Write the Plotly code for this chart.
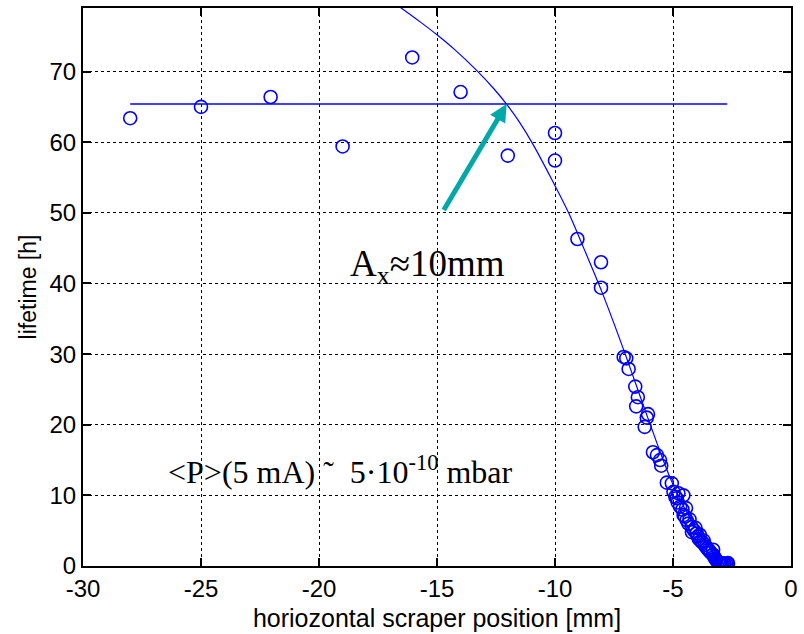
import plotly.graph_objects as go

# measured lifetime data
pos_x = [-28.0, -25.0, -22.05, -19.0, -16.05, -14.0, -12.0, -10.0, -10.0, -9.05, -8.05, -8.05,
         -7.09, -6.98, -6.88, -6.6, -6.49, -6.56, -6.06, -6.11, -6.2, -5.85, -5.68, -5.55, -5.5,
         -5.26, -5.05, -4.98, -4.77, -4.85, -4.9, -4.8, -4.7, -4.6, -4.56, -4.55, -4.5, -4.42,
         -4.45, -4.35, -4.3, -4.21, -4.2, -4.1, -4.0, -4.05, -3.95, -3.9, -3.86, -3.8, -3.75,
         -3.7, -3.65, -3.6, -3.55, -3.5, -3.45, -3.4, -3.3, -3.3, -3.25, -3.2, -3.16, -3.1,
         -3.05, -3.02, -3.0, -2.95, -2.9, -2.85, -2.81, -2.75, -2.7, -2.67]
lifetime = [63.4, 65.0, 66.4, 59.4, 72.0, 67.1, 58.1, 61.3, 57.4, 46.3, 43.0, 39.4,
            29.6, 29.4, 27.9, 25.4, 23.9, 22.6, 21.5, 21.0, 19.7, 16.1, 15.7, 15.0, 14.2,
            11.8, 11.7, 10.5, 10.3, 9.6, 9.8, 9.0, 8.4, 8.0, 10.0, 7.2, 7.0, 6.5,
            8.2, 6.0, 6.6, 5.5, 4.8, 5.0, 4.6, 5.4, 4.2, 3.8, 4.4, 3.5, 3.3,
            3.6, 3.0, 2.7, 2.5, 2.3, 2.1, 1.9, 1.6, 2.3, 1.3, 1.0, 0.8, 0.6,
            0.5, 0.3, 0.4, 0.3, 0.3, 0.35, 0.3, 0.3, 0.35, 0.4]

# fitted curve
fit_x = [-16.6, -15.7, -15.0, -14.25, -13.3, -12.6, -12.08, -11.5, -10.95, -10.18, -9.41,
         -8.77, -8.0, -7.09, -6.39, -5.68, -5.1, -4.5, -4.0, -3.3, -2.85]
fit_y = [79.2, 77.0, 75.2, 73.1, 70.1, 67.6, 65.5, 62.8, 59.8, 55.0, 49.9,
         44.9, 38.7, 30.6, 24.0, 17.4, 12.3, 8.1, 5.3, 1.9, 0.3]

# mean level line
mean_x = [-28.0, -2.7]
mean_y = [65.4, 65.4]

x_ticks = [-30, -25, -20, -15, -10, -5, 0]
y_ticks = [0, 10, 20, 30, 40, 50, 60, 70]

arrow_tail = (-14.75, 50.2)
arrow_head = (-12.05, 65.4)

blue = "rgb(0,0,255)"

fig = go.Figure()
fig.add_trace(go.Scatter(x=mean_x, y=mean_y, mode="lines",
                         line=dict(color=blue, width=1.5), showlegend=False))
fig.add_trace(go.Scatter(x=fit_x, y=fit_y, mode="lines",
                         line=dict(color=blue, width=1.2, shape="spline", smoothing=0.8),
                         showlegend=False))
fig.add_trace(go.Scatter(x=pos_x, y=lifetime, mode="markers",
                         marker=dict(symbol="circle-open", size=13, color=blue,
                                     line=dict(width=1.6, color=blue)),
                         showlegend=False))

fig.add_annotation(x=arrow_head[0], y=arrow_head[1], ax=arrow_tail[0], ay=arrow_tail[1],
                   xref="x", yref="y", axref="x", ayref="y", text="",
                   showarrow=True, arrowhead=2, arrowsize=0.7, arrowwidth=5,
                   arrowcolor="rgb(0,168,168)", standoff=0)

fig.add_annotation(x=-15.42, y=42.4, xref="x", yref="y", showarrow=False,
                   text="A<sub>x</sub>≈10mm",
                   font=dict(family="Liberation Serif", size=37, color="black"))
fig.add_annotation(x=-19.1, y=13.6, xref="x", yref="y", showarrow=False,
                   text="&lt;P&gt;(5 mA) ˜  5·10<sup>-10</sup> mbar",
                   font=dict(family="Liberation Serif", size=32, color="black"))

axis_common = dict(showline=True, linecolor="black", linewidth=2, mirror="ticks",
                   ticks="inside", ticklen=8, tickcolor="black", tickwidth=1.5,
                   showgrid=True, gridcolor="black", gridwidth=1, griddash="dot",
                   zeroline=False,
                   tickfont=dict(family="Liberation Sans", size=24, color="black"))

fig.update_xaxes(range=[-30, 0], tickvals=x_ticks, ticktext=[str(v) for v in x_ticks],
                 title=dict(text="horiozontal scraper position [mm]", standoff=9,
                            font=dict(family="Liberation Sans", size=25, color="black")),
                 **axis_common)
fig.update_yaxes(range=[0, 79], tickvals=y_ticks, ticktext=[str(v) for v in y_ticks],
                 title=dict(text="lifetime [h]", standoff=6,
                            font=dict(family="Liberation Sans", size=23, color="black")),
                 **axis_common)

fig.update_layout(width=804, height=634, plot_bgcolor="white", paper_bgcolor="white",
                  margin=dict(l=83, r=9, t=6, b=68))

fig.write_html("out.html", config={"displayModeBar": False},
               post_script="document.body.style.margin='0';")
